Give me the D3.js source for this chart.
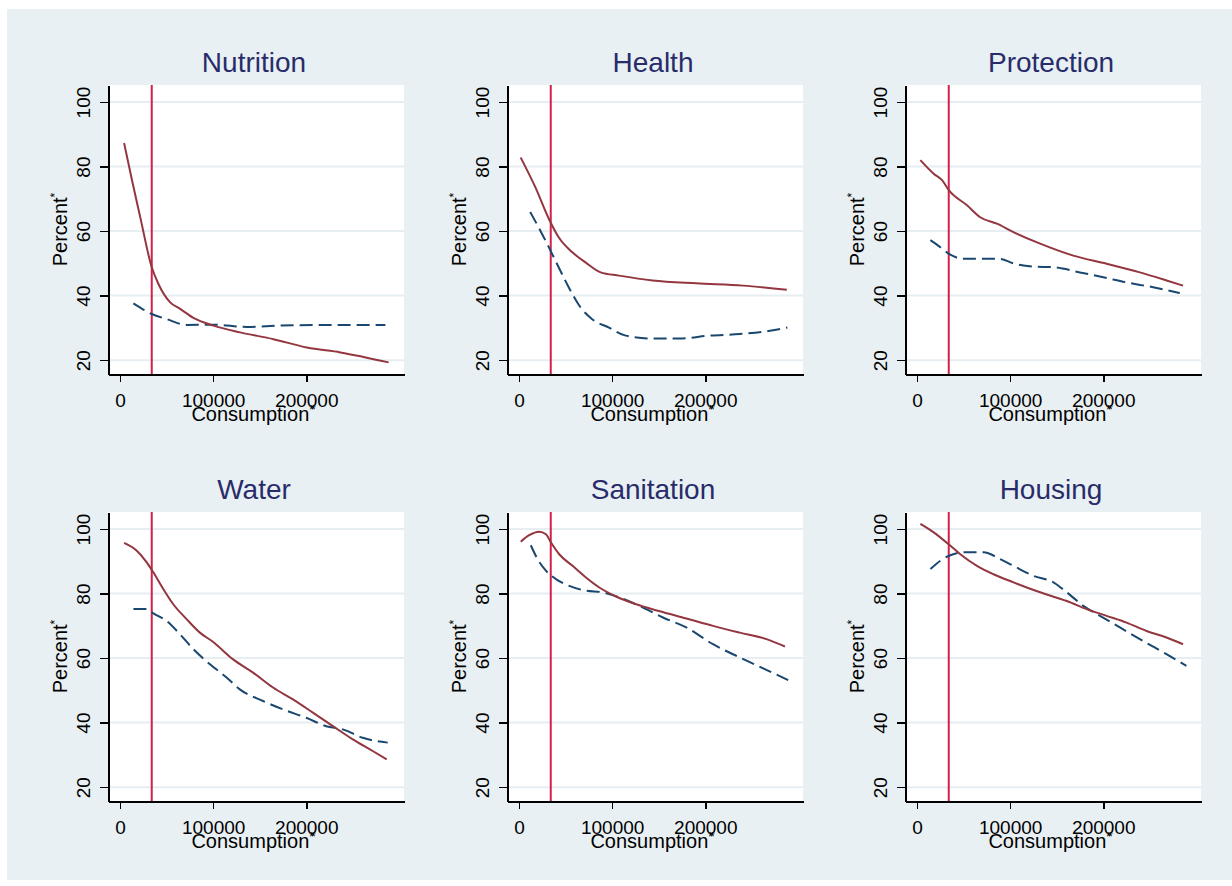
<!DOCTYPE html>
<html lang="en">
<head>
  <meta charset="UTF-8">
  <title>Deprivation by consumption</title>
  <style>
    body {
      margin: 0;
      background: #ffffff;
    }
    #chart text {
      font-family: "Liberation Sans", Arial, sans-serif;
      fill: #000;
    }
    #chart .title {
      font-size: 28px;
      fill: #282c6a;
    }
    #chart .axis-title {
      font-size: 20px;
    }
    .axis text {
      font-size: 19px;
    }
    .axis path,
    .axis line {
      stroke: #000;
      shape-rendering: crispEdges;
    }
  </style>
</head>
<body>
  <div id="chart"></div>

  <script src="https://d3js.org/d3.v7.min.js"></script>
  <script>
    // panel names, ticks and the poverty line
    const panels = ["Nutrition", "Health", "Protection", "Water", "Sanitation", "Housing"];
    const xTicks = [0, 100000, 200000];
    const yTicks = [20, 40, 60, 80, 100];
    const povertyLine = 34000;

    // solid = red curve, dashed = blue curve, [consumption, percent]
    const nutritionSolid = [[4300, 87.3], [12600, 76.0], [21500, 64.5], [34000, 48.8], [41200, 43.6],
      [53800, 37.9], [64500, 35.9], [78800, 33.1], [100300, 30.7], [129000, 28.6], [164800, 26.5],
      [200700, 23.9], [236600, 22.4], [288500, 19.3]];
    const nutritionDashed = [[14300, 37.6], [34000, 34.3], [50200, 32.7], [71700, 30.9], [100300, 31.0],
      [136200, 30.3], [172000, 30.7], [229400, 30.9], [285000, 30.9]];

    const healthSolid = [[1700, 82.8], [17300, 73.7], [32800, 63.3], [42500, 58.1], [56900, 53.5], [71300, 50.3],
      [87600, 47.2], [107400, 46.2], [143400, 44.7], [190300, 43.8], [240600, 43.1], [287600, 41.8]];
    const healthDashed = [[11900, 65.9], [20900, 61.2], [32800, 54.5], [42500, 48.8], [53300, 42.6], [65900, 36.4],
      [78500, 32.7], [96500, 30.1], [114600, 27.6], [143400, 26.7], [172200, 26.7], [204600, 27.6],
      [237100, 28.1], [269500, 29.1], [288200, 30.1]];

    const protectionSolid = [[3500, 82.0], [17800, 77.8], [26800, 75.8], [34300, 72.6], [53600, 68.0], [67800, 64.3],
      [85700, 62.3], [103500, 59.7], [132200, 56.1], [167800, 52.4], [203600, 49.9], [239300, 47.2],
      [268000, 44.7], [285700, 43.1]];
    const protectionDashed = [[14300, 57.2], [25000, 55.0], [35700, 52.7], [49900, 51.4], [67800, 51.4], [89300, 51.4],
      [103500, 50.0], [125000, 49.0], [146400, 48.8], [175000, 47.2], [200000, 45.7], [225000, 44.1],
      [253600, 42.6], [282200, 40.8]];

    const waterSolid = [[4300, 95.7], [17900, 93.3], [28600, 89.7], [35700, 86.6], [46400, 81.4], [57100, 76.7],
      [71400, 72.1], [85700, 67.9], [100000, 65.0], [121400, 59.6], [142900, 55.5], [164300, 50.9],
      [185700, 47.2], [207100, 43.1], [228600, 38.9], [250000, 34.8], [271400, 31.2], [286400, 28.6]];
    const waterDashed = [[14300, 75.2], [28600, 75.2], [35700, 73.9], [50000, 71.5], [64300, 67.4], [78600, 62.8],
      [96500, 58.1], [114400, 54.0], [128600, 50.3], [153600, 46.7], [175000, 44.1], [200000, 41.5],
      [221400, 38.9], [239300, 37.9], [260700, 35.3], [287500, 33.8]];

    const sanitationSolid = [[1800, 96.1], [10800, 98.1], [21600, 99.2], [28800, 98.4], [34100, 95.9], [43100, 92.2],
      [57400, 88.6], [71800, 85.0], [86200, 81.9], [104200, 79.1], [125700, 76.7], [150100, 74.6],
      [179600, 72.3], [208300, 70.0], [237100, 67.9], [265800, 65.9], [285600, 63.6]];
    const sanitationDashed = [[12600, 95.0], [19800, 90.7], [28800, 87.1], [39600, 84.5], [53900, 82.4], [71800, 80.9],
      [89800, 80.4], [107800, 78.8], [129300, 76.2], [154500, 72.6], [179600, 69.5], [208300, 64.3],
      [237100, 60.2], [262200, 56.8], [289100, 53.2]];

    const housingSolid = [[3500, 101.6], [17800, 99.0], [33900, 95.3], [46400, 92.2], [64300, 88.6], [82100, 86.0],
      [103500, 83.5], [132200, 80.4], [160800, 77.7], [182200, 75.2], [203600, 73.1], [225000, 71.0],
      [246500, 68.4], [267900, 66.4], [285700, 64.3]];
    const housingDashed = [[14300, 87.6], [25000, 90.2], [35700, 91.9], [49900, 92.8], [71400, 92.8], [89300, 90.7],
      [103500, 88.6], [125000, 85.5], [146400, 83.5], [160800, 80.4], [178600, 76.2], [196500, 73.1],
      [217900, 69.5], [242900, 65.3], [267900, 61.2], [289300, 57.6]];

    const solidSeries = [nutritionSolid, healthSolid, protectionSolid, waterSolid, sanitationSolid, housingSolid];
    const dashedSeries = [nutritionDashed, healthDashed, protectionDashed, waterDashed, sanitationDashed, housingDashed];

    // layout of the 3 x 2 grid
    const colLeft = [108, 507, 905];
    const rowTop = [85, 512];
    const plotW = 296;
    const plotH = 289;

    const svg = d3.select('#chart')
      .append('svg')
      .attr('width', 1232)
      .attr('height', 886);

    // light outer background
    svg.append('rect')
      .attr('x', 7)
      .attr('y', 9)
      .attr('width', 1225)
      .attr('height', 871)
      .attr('fill', '#e9f0f3');

    panels.forEach(function (name, i) {
      const left = colLeft[i % 3];
      const top = rowTop[Math.floor(i / 3)];

      const x = d3.scaleLinear().domain([-13000, 305000]).range([0, plotW]);
      const y = d3.scaleLinear().domain([15.7, 105.3]).range([plotH, 0]);

      const g = svg.append('g')
        .attr('transform', 'translate(' + left + ',' + top + ')');

      g.append('rect')
        .attr('width', plotW)
        .attr('height', plotH)
        .attr('fill', '#ffffff');

      // horizontal grid
      g.selectAll('.grid')
        .data(yTicks)
        .enter()
        .append('line')
        .attr('class', 'grid')
        .attr('x1', 0)
        .attr('x2', plotW)
        .attr('y1', function (d) { return y(d); })
        .attr('y2', function (d) { return y(d); })
        .attr('stroke', '#e6eef2')
        .attr('stroke-width', 2);

      // poverty line
      g.append('line')
        .attr('x1', x(povertyLine))
        .attr('x2', x(povertyLine))
        .attr('y1', 0)
        .attr('y2', plotH)
        .attr('stroke', '#d3204b')
        .attr('stroke-width', 2);

      const line = d3.line()
        .x(function (d) { return x(d[0]); })
        .y(function (d) { return y(d[1]); })
        .curve(d3.curveMonotoneX);

      g.append('path')
        .datum(dashedSeries[i])
        .attr('d', line)
        .attr('fill', 'none')
        .attr('stroke', '#1a476f')
        .attr('stroke-width', 2)
        .attr('stroke-dasharray', '13,6');

      g.append('path')
        .datum(solidSeries[i])
        .attr('d', line)
        .attr('fill', 'none')
        .attr('stroke', '#93363f')
        .attr('stroke-width', 2);

      // axes
      const yAxis = g.append('g')
        .attr('class', 'axis')
        .call(d3.axisLeft(y).tickValues(yTicks).tickSize(8).tickSizeOuter(0));
      yAxis.select('.domain').attr('stroke-width', 2);
      yAxis.selectAll('line').attr('stroke-width', 1.5);
      yAxis.selectAll('text')
        .attr('x', null)
        .attr('dy', null)
        .attr('text-anchor', 'middle')
        .attr('transform', 'translate(-18,0) rotate(-90)');

      const xAxis = g.append('g')
        .attr('class', 'axis')
        .attr('transform', 'translate(0,' + plotH + ')')
        .call(d3.axisBottom(x).tickValues(xTicks).tickSize(8).tickSizeOuter(0).tickFormat(d3.format('d')));
      xAxis.select('.domain').attr('stroke-width', 2);
      xAxis.selectAll('line').attr('stroke-width', 1.5);
      xAxis.selectAll('text')
        .attr('y', 33)
        .attr('dy', null);

      // titles
      g.append('text')
        .attr('class', 'title')
        .attr('x', plotW / 2 - 2)
        .attr('y', -13)
        .attr('text-anchor', 'middle')
        .text(name);

      const xt = g.append('text')
        .attr('class', 'axis-title')
        .attr('x', plotW / 2 - 4)
        .attr('y', plotH + 47)
        .attr('text-anchor', 'middle')
        .text('Consumption');
      xt.append('tspan')
        .attr('dy', -7)
        .attr('font-size', '12px')
        .attr('letter-spacing', '-3px')
        .text('**');

      const yt = g.append('text')
        .attr('class', 'axis-title')
        .attr('transform', 'translate(-41,' + (plotH / 2) + ') rotate(-90)')
        .attr('text-anchor', 'middle')
        .text('Percent');
      yt.append('tspan')
        .attr('dy', -8)
        .attr('font-size', '12px')
        .text('*');
    });
  </script>
</body>
</html>
